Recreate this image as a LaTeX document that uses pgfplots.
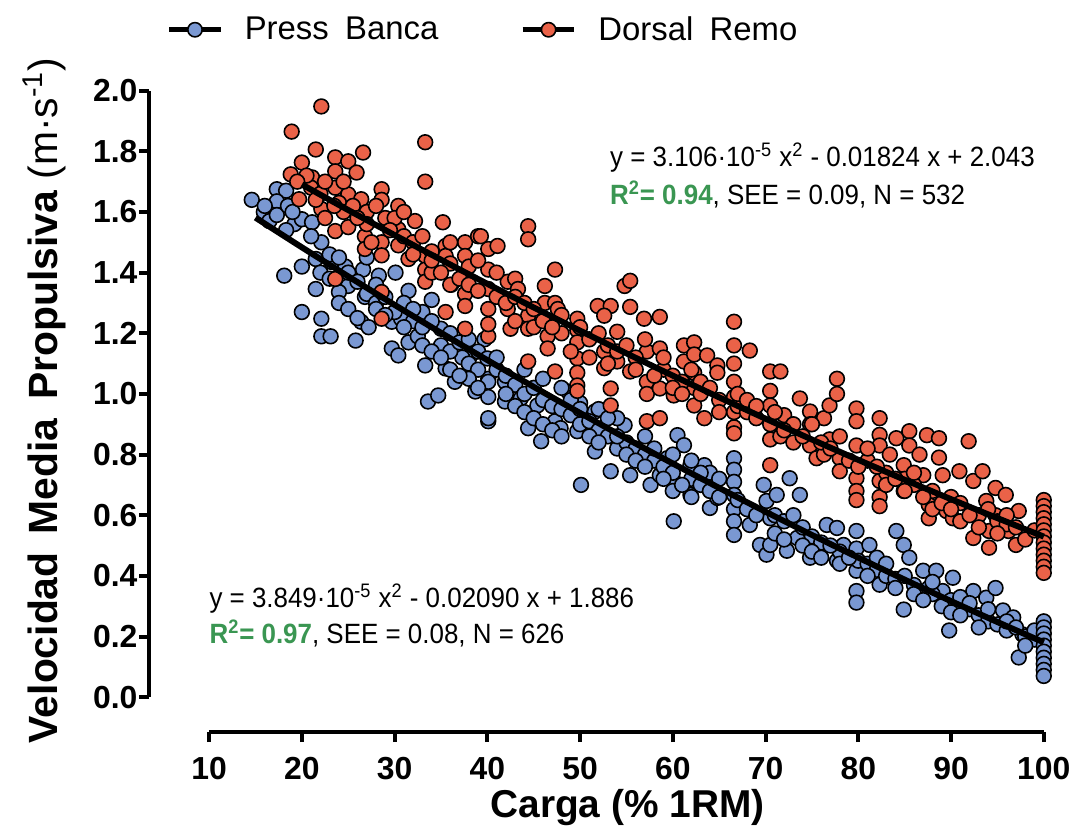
\documentclass[border=0pt]{standalone}
\usepackage{fontspec}
\setmainfont{Liberation Sans}
\usepackage{graphicx}
\usepackage{pgfplots}
\usepackage{pgfplotstable}
\pgfplotsset{compat=1.18}

\definecolor{pbblue}{RGB}{122,152,210}
\definecolor{drred}{RGB}{234,98,72}
\definecolor{rgreen}{RGB}{58,150,82}

% Press Banca
\pgfplotstableread{
x y
14.6 1.64
15.9 1.60
16.5 1.57
17.3 1.675
18.3 1.67
17.3 1.635
17.3 1.59
18.5 1.62
19.2 1.56
20.0 1.576
21.1 1.566
18.3 1.54
22.1 1.50
20.0 1.42
18.1 1.39
21.5 1.445
23.2 1.435
24.7 1.42
21.5 1.346
20.0 1.27
22.1 1.248
22.1 1.19
23.1 1.19
25.8 1.176
26.4 1.238
27.2 1.22
26.8 1.32
25.0 1.356
24.0 1.336
26.6 1.41
28.3 1.39
30.1 1.40
31.5 1.34
29.7 1.238
30.7 1.248
29.7 1.15
30.4 1.127
31.5 1.17
32.5 1.19
33.3 1.094
35.0 1.215
34.0 1.31
35.5 1.084
33.6 0.975
34.7 0.995
36.5 1.04
38.7 1.008
40.1 0.91
40.1 1.05
39.7 1.18
38.2 1.127
37.3 1.12
36.1 1.36
25 1.40
27 1.33
28 1.30
30 1.27
32 1.24
33 1.22
35 1.16
36 1.14
38 1.10
39 1.08
23 1.46
24 1.45
26 1.37
28 1.28
29 1.32
31 1.30
33 1.27
34 1.24
36 1.20
37 1.17
38 1.05
39 1.14
40 1.117
40.1 1.04
40.1 0.99
40.1 0.92
41.9 1.04
41.9 0.975
43.6 0.985
44.4 0.887
45.8 0.844
45.4 0.962
47.3 0.91
47.9 0.887
48.7 1.008
49.7 0.877
51.6 0.942
51.6 0.81
50.1 0.70
53.3 0.745
54.0 0.82
54.8 0.897
55.4 0.732
56.9 0.765
57.6 0.70
58.6 0.732
59.4 0.788
60.1 0.713
60.1 0.58
60.5 0.864
61.2 0.831
61.9 0.765
61.9 0.667
63.4 0.765
63.7 0.70
64.0 0.624
64.8 0.657
66.6 0.788
66.6 0.75
66.6 0.71
66.6 0.667
66.6 0.62
66.6 0.58
66.6 0.535
68.3 0.568
69.4 0.502
70.1 0.647
70.1 0.47
41 1.08
42 1.06
43 1.03
44 1.00
45 1.02
46 0.98
47 0.96
48 0.95
49 0.93
50 0.90
50 0.97
51 0.91
52 0.88
53 0.86
55 0.84
56 0.82
57 0.80
58 0.78
59 0.76
60 0.74
62 0.72
63 0.70
64 0.68
65 0.66
44 1.08
46 1.05
48 1.02
52 0.95
54 0.92
57 0.86
60 0.80
62 0.78
64 0.74
69.8 0.70
71.2 0.667
72.6 0.722
73.7 0.667
70.5 0.59
70.5 0.502
72.3 0.483
73.4 0.525
74.8 0.46
76.6 0.568
77.7 0.558
78.4 0.502
77.7 0.45
79.8 0.548
79.8 0.49
79.8 0.417
79.8 0.35
79.8 0.312
81.2 0.502
82.3 0.371
84.1 0.548
84.9 0.502
84.9 0.289
85.5 0.46
87.0 0.417
87.6 0.36
88.4 0.417
89.1 0.35
89.8 0.22
90.2 0.394
91.3 0.296
92.4 0.35
93.8 0.328
94.8 0.36
95.6 0.286
96.7 0.263
97.3 0.131
97.7 0.207
71 0.60
72 0.58
74 0.56
75 0.53
76 0.51
78 0.48
80 0.45
81 0.44
82 0.42
83 0.40
84 0.39
86 0.37
88 0.34
90 0.32
91 0.33
92 0.29
93 0.27
94 0.25
95 0.24
96 0.22
98 0.20
99 0.19
16 1.62
19 1.60
21 1.52
22 1.40
23 1.38
24 1.30
25 1.28
26 1.25
27 1.45
28 1.36
29 1.26
31 1.22
32 1.28
33 1.16
34 1.14
35 1.12
36 1.08
37 1.06
38 1.18
39 1.02
41 1.12
42 1.00
43 0.96
44 0.94
45 0.92
46 0.90
47 0.88
48 0.86
49 0.98
50 0.95
51 0.86
52 0.84
53 0.92
54 0.86
55 0.80
56 0.78
57 0.76
58 0.82
59 0.72
60 0.68
61 0.70
62 0.66
63 0.74
65 0.72
67 0.65
68 0.62
69 0.60
71 0.54
72 0.52
73 0.60
74 0.50
75 0.48
76 0.46
77 0.50
78 0.44
79 0.46
81 0.40
82 0.46
83 0.44
84 0.36
85 0.40
86 0.34
87 0.32
88 0.38
89 0.30
90 0.28
91 0.27
92 0.31
93 0.23
94 0.29
96 0.25
97 0.23
98 0.17
99 0.22
100 0.25
100 0.23
100 0.21
100 0.19
100 0.17
100 0.15
100 0.13
100 0.11
100 0.09
100 0.07
}\pressdata

% Dorsal Remo
\pgfplotstableread{
x y
22.1 1.948
18.9 1.865
21.5 1.806
23.6 1.78
25.0 1.767
26.6 1.796
20.0 1.763
18.8 1.724
21.1 1.714
23.6 1.734
25.9 1.73
23.6 1.68
25.0 1.658
19.7 1.642
22.1 1.61
26.4 1.642
28.6 1.675
28.6 1.64
30.4 1.62
32.2 1.57
35.2 1.566
33.3 1.83
33.3 1.70
23.6 1.537
25.0 1.55
26.8 1.52
28.6 1.50
28.6 1.457
30.4 1.543
30.4 1.49
31.5 1.445
33.3 1.455
33.3 1.41
33.3 1.37
35.5 1.488
35.5 1.455
37.6 1.50
37.6 1.455
37.6 1.39
37.6 1.33
37.6 1.29
39.0 1.52
40.1 1.478
40.1 1.41
40.1 1.346
40.1 1.28
40.1 1.19
37.6 1.215
35.5 1.27
28.6 1.336
28.6 1.248
23.6 1.379
26.8 1.478
21 1.68
22 1.66
24 1.63
27 1.60
29 1.58
31 1.52
32 1.50
34 1.47
36 1.43
38 1.42
20.5 1.72
22.5 1.70
24.5 1.60
27 1.56
30 1.58
34 1.40
36 1.36
44.4 1.553
44.4 1.51
39.3 1.52
41.1 1.488
40.1 1.23
42.2 1.37
43.0 1.38
43.3 1.346
42.2 1.28
42.5 1.215
44.4 1.258
44.4 1.215
44.4 1.107
46.2 1.356
46.2 1.30
47.3 1.41
47.3 1.30
46.5 1.19
46.5 1.15
47.3 1.074
47.6 1.28
49.7 1.248
49.7 1.21
49.7 1.17
49.7 1.117
49.7 1.07
49.7 1.028
49.7 1.01
51.9 1.29
53.3 1.29
54.8 1.356
55.4 1.373
55.4 1.287
52.6 1.258
54.0 1.205
52.6 1.14
52.6 1.085
53.3 1.018
53.3 0.962
54.0 1.107
55.4 1.074
56.9 1.248
58.6 1.254
57.2 1.14
58.6 1.15
57.2 1.04
57.2 1.00
57.2 0.91
58.6 1.018
58.6 0.92
60.1 0.995
61.2 1.16
61.2 1.107
62.3 1.17
62.3 1.13
62.3 1.07
62.3 1.02
62.3 0.962
63.7 1.127
64.8 1.094
64.8 1.07
63.4 0.92
66.6 1.238
66.6 1.16
66.6 1.10
66.6 1.04
66.6 0.99
66.6 0.94
66.6 0.89
66.6 0.87
68.3 1.143
41 1.32
43 1.24
45 1.22
48 1.20
51 1.18
53 1.16
56 1.12
59 1.08
60 1.06
61 1.04
63 1.00
65 0.98
67 0.96
68 0.94
69 0.92
70.5 1.074
71.6 1.074
70.5 1.01
70.5 0.962
70.5 0.90
70.5 0.85
70.5 0.765
71.6 0.86
73.7 0.985
74.8 0.942
74.8 0.90
74.8 0.83
75.5 0.788
76.3 0.92
76.9 0.962
77.7 1.05
77.7 1.0
78.0 0.788
78.0 0.745
76.3 0.80
76.9 0.85
79.8 0.952
79.8 0.91
79.8 0.83
79.8 0.722
79.8 0.68
79.8 0.65
82.3 0.92
82.3 0.865
82.3 0.83
82.3 0.713
82.3 0.66
82.3 0.63
83.4 0.80
84.1 0.854
84.9 0.765
84.9 0.68
85.5 0.877
85.5 0.83
86.6 0.80
87.0 0.732
87.4 0.864
87.6 0.634
87.6 0.59
88.7 0.854
88.7 0.79
89.1 0.732
89.5 0.614
90.2 0.59
90.9 0.745
91.9 0.844
92.4 0.713
93.4 0.745
92.4 0.525
93.8 0.647
94.1 0.548
94.1 0.493
94.8 0.60
94.8 0.69
95.9 0.667
96.2 0.548
97.3 0.614
97.0 0.502
72 0.93
73 0.90
81 0.78
83 0.74
85 0.72
86 0.70
88 0.68
90 0.66
91 0.64
93 0.60
95 0.58
96 0.57
19.5 1.70
21.5 1.64
22.5 1.58
23.5 1.62
24.5 1.70
25.5 1.62
26 1.58
27.5 1.50
28 1.62
29.5 1.54
31 1.60
32 1.46
33 1.52
34 1.44
35 1.40
36 1.50
37 1.38
38 1.36
39 1.34
39 1.44
41 1.40
42 1.30
43 1.32
44 1.30
45 1.28
46 1.24
47 1.22
48 1.26
49 1.14
50 1.22
51 1.12
52 1.20
53 1.10
54 1.14
55 1.16
56 1.08
57 1.18
58 1.06
59 1.12
60 1.02
61 1.00
62 1.08
63 1.04
64 1.02
65 0.94
67 1.00
68 0.98
69 0.96
71 0.94
72 0.88
73 0.84
74 0.86
75 0.90
76 0.84
77 0.82
78 0.86
79 0.78
80 0.76
81 0.82
82 0.76
83 0.70
84 0.72
85 0.68
86 0.74
87 0.66
88 0.62
89 0.64
90 0.62
91 0.58
92 0.60
93 0.56
94 0.62
95 0.54
96 0.60
97 0.56
98 0.52
99 0.55
100 0.65
100 0.63
100 0.61
100 0.59
100 0.57
100 0.55
100 0.53
100 0.51
100 0.49
100 0.47
100 0.45
100 0.43
100 0.41
}\dorsaldata

% fitted curves, evaluated from the printed equations
\pgfplotstableread{
x y
15 1.5812
20 1.4834
25 1.3876
30 1.2936
35 1.2017
40 1.1116
45 1.0234
50 0.9372
55 0.8529
60 0.7706
65 0.6901
70 0.6116
75 0.5350
80 0.4603
85 0.3876
90 0.3168
95 0.2479
100 0.1809
}\pressfit

\pgfplotstableread{
x y
20 1.6906
25 1.6064
30 1.5238
35 1.4426
40 1.3631
45 1.2851
50 1.2087
55 1.1338
60 1.0604
65 0.9886
70 0.9184
75 0.8497
80 0.7826
85 0.7170
90 0.6530
95 0.5905
100 0.5296
}\dorsalfit

\begin{document}
\begin{tikzpicture}
\begin{axis}[
  set layers,
  width=449pt, height=322pt, scale only axis,
  xmin=3.56, xmax=100, ymin=-0.115, ymax=2.0,
  clip=false,
  axis lines*=left,
  axis line style={draw=none},
  tick align=outside,
  major tick length=5pt,
  every tick/.style={black, line width=2pt},
  xtick={10,20,30,40,50,60,70,80,90,100},
  ytick={0,0.2,0.4,0.6,0.8,1.0,1.2,1.4,1.6,1.8,2.0},
  yticklabels={0.0,0.2,0.4,0.6,0.8,1.0,1.2,1.4,1.6,1.8,2.0},
  /pgf/number format/assume math mode=true,
  ticklabel style={font=\fontsize{16}{16}\selectfont\bfseries},
  yticklabel style={xshift=2.5pt},
  xticklabel style={yshift=-4pt},
  xlabel={\textbf{Carga (\% 1RM)}},
  xlabel style={font=\fontsize{19.5}{20}\selectfont, at={(axis description cs:0.5345,-0.117)}, anchor=center},
  ylabel={\textbf{Velocidad\hspace{0.45em}Media\hspace{0.45em}Propulsiva} (m·s\textsuperscript{-1})},
  ylabel style={font=\fontsize{20.5}{21}\selectfont, at={(axis description cs:-0.117,0.517)}, anchor=center},
  legend style={draw=none, fill=none, at={(axis description cs:0.012,1.095)}, anchor=west,
    legend columns=2, font=\fontsize{16.5}{18}\selectfont,
    /tikz/every even column/.append style={column sep=39pt}},
  legend cell align=left,
]
\addplot[only marks, mark=*, mark size=3.7pt, mark options={draw=black, line width=0.8pt, fill=pbblue},
  legend image code/.code={
    \path[draw=none, fill=none] (0pt,0pt) -- (36pt,0pt);
    \draw[black, line width=2.6pt] (0pt,0pt) -- (26pt,0pt);
    \draw[black, line width=0.8pt, fill=pbblue] (13pt,0pt) circle (3.6pt);}]
  table {\pressdata};
\addlegendentry{Press\hspace{0.5em}Banca}
\addplot[only marks, mark=*, mark size=3.7pt, mark options={draw=black, line width=0.8pt, fill=drred},
  legend image code/.code={
    \path[draw=none, fill=none] (0pt,0pt) -- (36pt,0pt);
    \draw[black, line width=2.6pt] (0pt,0pt) -- (26pt,0pt);
    \draw[black, line width=0.8pt, fill=drred] (13pt,0pt) circle (3.6pt);}]
  table {\dorsaldata};
\addlegendentry{Dorsal\hspace{0.5em}Remo}

\addplot[forget plot, black, line width=3pt, smooth, on layer=axis foreground] table {\pressfit};
\addplot[forget plot, black, line width=3pt, smooth, on layer=axis foreground] table {\dorsalfit};

% axis spines, offset as in the original
\draw[black, line width=2pt] (axis cs:3.56,0) -- (axis cs:3.56,2.0);
\draw[black, line width=2pt] (axis cs:10,-0.115) -- (axis cs:100,-0.115);

\node[anchor=west, inner sep=0pt, font=\fontsize{14}{15}\selectfont] at (axis cs:53.2,1.78)
  {\scalebox{0.93}[1]{y = 3.106·10\textsuperscript{-5} x\textsuperscript{2} - 0.01824 x + 2.043}};
\node[anchor=west, inner sep=0pt, font=\fontsize{14}{15}\selectfont] at (axis cs:53.2,1.658)
  {\scalebox{0.93}[1]{\textcolor{rgreen}{\textbf{R\textsuperscript{2}= 0.94}}, SEE = 0.09, N = 532}};
\node[anchor=west, inner sep=0pt, font=\fontsize{14}{15}\selectfont] at (axis cs:10,0.325)
  {\scalebox{0.93}[1]{y = 3.849·10\textsuperscript{-5} x\textsuperscript{2} - 0.02090 x + 1.886}};
\node[anchor=west, inner sep=0pt, font=\fontsize{14}{15}\selectfont] at (axis cs:10,0.21)
  {\scalebox{0.93}[1]{\textcolor{rgreen}{\textbf{R\textsuperscript{2}= 0.97}}, SEE = 0.08, N = 626}};

% page frame matching the reference proportions
\path (axis cs:-12.55,-0.463) rectangle (axis cs:103.1,2.299);
\end{axis}
\end{tikzpicture}
\end{document}
